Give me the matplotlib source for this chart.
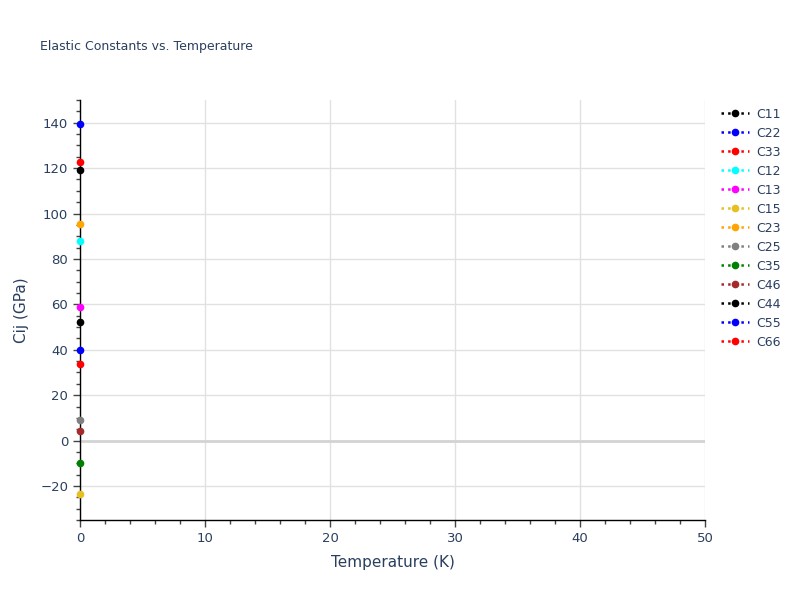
import numpy as np
import matplotlib.pyplot as plt
from matplotlib.ticker import MultipleLocator

# Elastic constants at T = 0 K
names = ["C11", "C22", "C33", "C12", "C13", "C15", "C23",
         "C25", "C35", "C46", "C44", "C55", "C66"]
values = [119.1, 139.4, 122.8, 87.8, 59.0, -23.5, 95.3,
          9.2, -9.9, 4.4, 52.4, 40.1, 33.9]
colors = ["black", "blue", "red", "cyan", "magenta", "#e6bf20", "orange",
          "gray", "green", "brown", "black", "blue", "red"]
temps = [0]

fig = plt.figure(figsize=(8, 6), dpi=100)
ax = fig.add_axes([0.1, 0.1333, 0.78125, 0.7])

for name, val, col in zip(names, values, colors):
    ax.plot(temps, [val], linestyle=":", color=col, marker="o",
            markersize=4.5, linewidth=1.8, label=name, clip_on=False, zorder=5)

ax.set_xlim(0, 50)
ax.set_ylim(-35, 150)
ax.xaxis.set_major_locator(MultipleLocator(10))
ax.xaxis.set_minor_locator(MultipleLocator(2))
ax.yaxis.set_major_locator(MultipleLocator(20))
ax.yaxis.set_minor_locator(MultipleLocator(5))

txt = "#2a3f5f"
ax.tick_params(which="major", direction="out", length=5, width=1, colors="#444444",
               labelcolor=txt, labelsize=9.5)
ax.tick_params(which="minor", direction="out", length=3, width=1, colors="#444444")
ax.grid(True, which="major", color="#e1e1e1", linewidth=1)
ax.axhline(0, color="#d3d3d3", linewidth=2, zorder=1)
ax.set_axisbelow(True)

for side in ["top", "right"]:
    ax.spines[side].set_visible(False)
for side in ["left", "bottom"]:
    ax.spines[side].set_color("black")
    ax.spines[side].set_linewidth(1)

ax.set_xlabel("Temperature (K)", color=txt, fontsize=11, labelpad=7)
ax.set_ylabel("Cij (GPa)", color=txt, fontsize=11, labelpad=8)
fig.text(0.05, 0.917, "Elastic Constants vs. Temperature", color=txt, fontsize=9)

leg = ax.legend(loc="upper left", bbox_to_anchor=(1.014, 1.0), frameon=False,
                fontsize=9, labelcolor=txt, handlelength=2.2, handletextpad=0.6,
                labelspacing=0.48, borderaxespad=0.2)

plt.savefig("out.png", dpi=100)
